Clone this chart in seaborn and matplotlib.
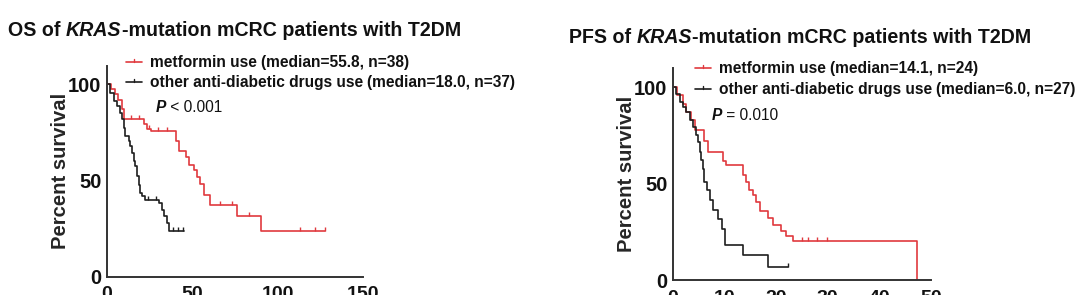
import matplotlib
matplotlib.use("Agg")
import matplotlib.pyplot as plt
import seaborn as sns
import pandas as pd

# ---------------- data ----------------
os_met_t = [0, 2.5, 4.5, 6.5, 8.5, 10, 21.5, 23.5, 25.5, 40.5, 42, 46, 48, 50.8, 52.7, 54.7, 56.6, 60.5, 76, 90, 128]
os_met_s = [100, 97.4, 94.7, 92, 87, 82, 79.5, 77, 75.5, 70.5, 65.5, 62, 58, 55.5, 52, 48, 42.5, 37.5, 31.5, 23.5, 23.5]
os_met_cens_t = [14, 19, 24.5, 30, 35, 66, 73.3, 83, 113.3, 122, 127.5]
os_met_cens_s = [82, 82, 77, 75.5, 75.5, 37.5, 37.5, 31.5, 23.5, 23.5, 23.5]

os_oth_t = [0, 2.0, 3.9, 5.9, 7.8, 8.8, 9.8, 10.7, 12.7, 13.7, 14.6, 15.6, 16.6, 17.6, 18.6, 19.5, 20.5, 22.5, 30.3, 32.2, 33.2, 35.2, 36.1, 44.9]
os_oth_s = [100, 95.6, 91.3, 88.7, 85.2, 81.7, 77.4, 73, 70.4, 67.8, 64.3, 60, 57.4, 52.2, 47.8, 43.5, 41.7, 40, 38.3, 34.8, 31.3, 27.8, 23.5, 23.5]
os_oth_cens_t = [24, 28.5, 38.5, 41.5, 44.5]
os_oth_cens_s = [40, 40, 23.5, 23.5, 23.5]

pfs_met_t = [0, 0.8, 1.9, 2.6, 3.5, 4.2, 6.1, 6.8, 9.7, 10.3, 13.5, 14.2, 14.8, 15.5, 16.1, 16.8, 18.4, 19.4, 21.0, 21.9, 23.2, 47.2]
pfs_met_s = [100, 96, 91.5, 87, 83, 78, 72, 66.5, 62, 59.5, 54.5, 51, 46.5, 44, 40.5, 36, 32, 28.5, 25.5, 23, 20, 0]
pfs_met_cens_t = [25, 26.2, 28, 29.8]
pfs_met_cens_s = [20, 20, 20, 20]

pfs_oth_t = [0, 0.6, 1.3, 2.0, 2.6, 3.3, 3.9, 4.5, 4.8, 5.2, 5.5, 5.8, 6.1, 6.5, 7.1, 7.7, 8.7, 9.4, 10.0, 13.5, 18.4, 22.3]
pfs_oth_s = [100, 96.3, 92.6, 90, 87, 83, 79.4, 75, 71.6, 66.4, 62.1, 57.8, 50.9, 46.5, 41.3, 36.2, 31.8, 26.6, 18, 12.8, 6.7, 6.7]
pfs_oth_cens_t = [22.3]
pfs_oth_cens_s = [6.7]

os_xticks = [0, 50, 100, 150]
pfs_xticks = [0, 10, 20, 30, 40, 50]
yticks = [0, 50, 100]

os_legend = [("metformin use", "(median=55.8, n=38)"),
             ("other anti-diabetic drugs use", "(median=18.0, n=37)")]
pfs_legend = [("metformin use", "(median=14.1, n=24)"),
              ("other anti-diabetic drugs use", "(median=6.0, n=27)")]
os_p = ("P", " < 0.001")
pfs_p = ("P", " = 0.010")

RED = "#e0393e"
BLACK = "#1e1e1e"

# ---------------- style ----------------
sns.set_style("white")
plt.rcParams["font.family"] = ["Liberation Sans", "DejaVu Sans"]

W, H = 1080, 295
fig = plt.figure(figsize=(W / 100, H / 100), dpi=100)


def fx(px):
    return px / W


def fy(py):
    return 1 - py / H


def make_axes(x0, x1, y0, ytop_px):
    return fig.add_axes([fx(x0), fy(y0), fx(x1) - fx(x0), (y0 - ytop_px) / H])


def draw_panel(ax, curves, xmax, xticks, ymax):
    for t, s, ct, cs, col in curves:
        df = pd.DataFrame({"t": t, "s": s})
        sns.lineplot(data=df, x="t", y="s", ax=ax, color=col, lw=1.2,
                     drawstyle="steps-post", estimator=None, sort=False)
        cdf = pd.DataFrame({"t": ct, "s": cs})
        sns.scatterplot(data=cdf, x="t", y="s", ax=ax, color=col, marker=2,
                        s=10, linewidth=1.0)
    ax.set_xlim(0, xmax)
    ax.set_ylim(0, ymax)
    ax.set_xticks(xticks)
    ax.set_yticks(yticks)
    ax.set_xticklabels([str(v) for v in xticks], fontsize=14, fontweight="bold")
    ax.set_yticklabels([str(v) for v in yticks], fontsize=14.5, fontweight="bold")
    ax.set_xlabel("")
    ax.set_ylabel("Percent survival", fontsize=14.6, fontweight="bold", labelpad=-1.5)
    for sp in ["top", "right"]:
        ax.spines[sp].set_visible(False)
    for sp in ["left", "bottom"]:
        ax.spines[sp].set_color("#333333")
        ax.spines[sp].set_linewidth(1.4)
    ax.tick_params(axis="both", direction="out", length=3, width=1.2,
                   color="#333333", labelcolor="#111111")
    ax.tick_params(axis="y", pad=1)
    ax.tick_params(axis="x", pad=4)
    ax.patch.set_alpha(0)


def chain(x_px, y_px, pieces, size):
    """pieces: list of (text, weight, style)"""
    first = True
    prev = None
    for txt, w, st in pieces:
        if first:
            prev = fig.text(fx(x_px), fy(y_px), txt, fontsize=size, fontweight=w,
                            fontstyle=st, ha="left", va="baseline", color="#111111")
            first = False
        else:
            prev = fig.axes[0].annotate(txt, xy=(1, 0), xycoords=prev, ha="left",
                                        va="bottom", fontsize=size, fontweight=w,
                                        fontstyle=st, color="#111111",
                                        annotation_clip=False)
    return prev


def title(x_px, y_px, name):
    chain(x_px, y_px, [(name + " of ", "bold", "normal"),
                       ("KRAS", "bold", "italic"),
                       ("-mutation mCRC patients with T2DM", "bold", "normal")], 14.1)


def legend(ax, lx0, lx1, ys, tx, entries, p, px, py):
    for (lab, med), y, col in zip(entries, ys, [RED, BLACK]):
        line = plt.Line2D([fx(lx0), fx(lx1)], [fy(y), fy(y)], transform=fig.transFigure,
                          color=col, lw=1.2)
        fig.add_artist(line)
        tick = plt.Line2D([fx((lx0 + lx1) / 2)] * 2, [fy(y), fy(y - 3)],
                          transform=fig.transFigure, color=col, lw=1.0)
        fig.add_artist(tick)
        chain(tx, y + 5, [(lab + " ", "bold", "normal"), (med, "bold", "normal")], 11.2)
    chain(px, py + 5, [(p[0], "bold", "italic"), (p[1], "normal", "normal")], 11.2)


# left panel
axL = make_axes(107, 363, 276.7, 66)
draw_panel(axL, [(os_met_t, os_met_s, os_met_cens_t, os_met_cens_s, RED),
                 (os_oth_t, os_oth_s, os_oth_cens_t, os_oth_cens_s, BLACK)],
           150, os_xticks, 109.5)

# right panel
axR = make_axes(673, 931, 280, 68)
draw_panel(axR, [(pfs_met_t, pfs_met_s, pfs_met_cens_t, pfs_met_cens_s, RED),
                 (pfs_oth_t, pfs_oth_s, pfs_oth_cens_t, pfs_oth_cens_s, BLACK)],
           50, pfs_xticks, 110)

title(8, 36, "OS")
title(569, 43, "PFS")

legend(axL, 126, 142, [62, 82], 150, os_legend, os_p, 156, 107)
legend(axR, 695, 711, [68, 89], 719, pfs_legend, pfs_p, 712, 115)

fig.savefig("out.png", dpi=100)
